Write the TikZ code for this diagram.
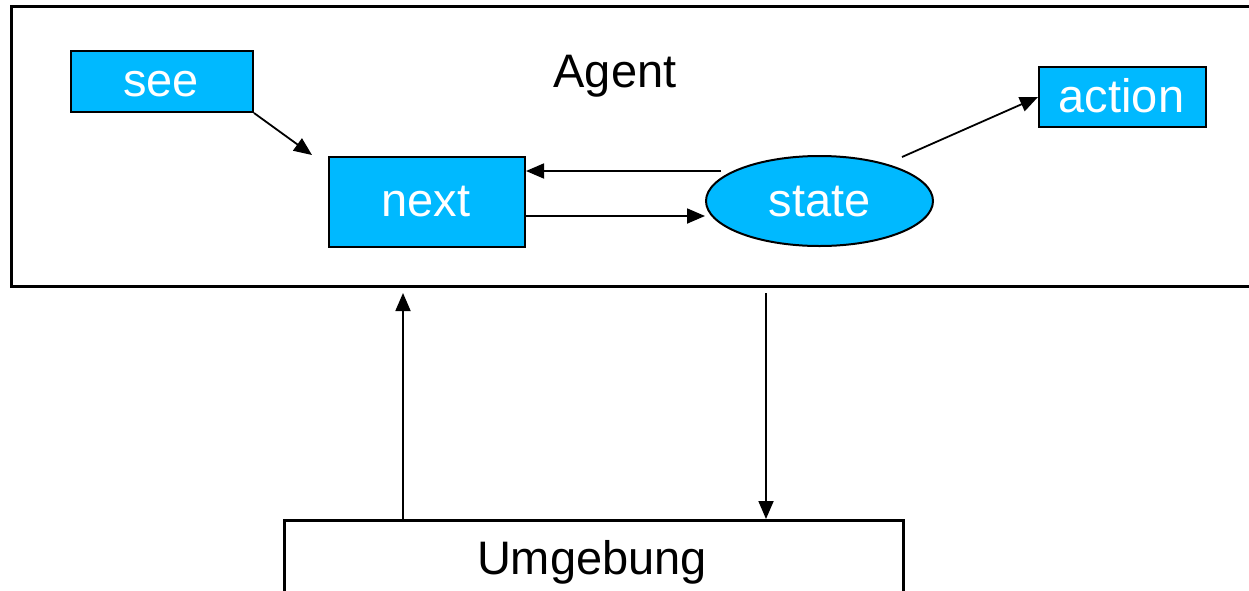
\documentclass[tikz,border=0pt]{standalone}
\usepackage{fontspec}
\setmainfont{Liberation Sans}
\usetikzlibrary{shapes.geometric,arrows.meta}
\definecolor{boxcyan}{RGB}{0,185,255}
\tikzset{
  every node/.style={font=\fontsize{47}{56}\selectfont, inner sep=0pt},
  bluebox/.style={draw=black, line width=2pt, fill=boxcyan, text=white, rectangle, anchor=north west},
  frame/.style={draw=black, line width=2.5pt},
  conn/.style={draw=black, line width=1.8pt, -{Triangle[length=18pt,width=15pt]}}
}
\begin{document}
\begin{tikzpicture}[x=1pt,y=-1pt]
\useasboundingbox (0,0) rectangle (1249,590);
\clip (0,0) rectangle (1249,590);
% Agent frame
\node[frame, rectangle, anchor=north west, minimum width=1260pt, minimum height=280pt] (agentbox) at (10,5) {};
\node[anchor=base] (agent) at (615,87) {Agent};
% Umgebung
\node[frame, rectangle, anchor=north west, minimum width=619pt, minimum height=120pt] (umg) at (283,519) {};
\node[anchor=base] (umgtext) at (592,574) {Umgebung};
% blue nodes
\node[bluebox, minimum width=182pt, minimum height=61pt] (see) at (70,50) {};
\node[text=white, anchor=base] at (161,96) {see};
\node[bluebox, minimum width=196pt, minimum height=90pt] (next) at (328,156) {};
\node[text=white, anchor=base] at (426,216) {next};
\node[draw=black, line width=2pt, fill=boxcyan, ellipse, minimum width=227pt, minimum height=90pt] (state) at (819.5,201) {};
\node[text=white, anchor=base] at (819.5,216) {state};
\node[bluebox, minimum width=167pt, minimum height=60pt] (action) at (1038,66) {};
\node[text=white, anchor=base] at (1121.5,112) {action};
% connectors
\coordinate (nextTL) at (312,155);
\draw[conn] (see.south east) -- (nextTL);
\draw[conn] ([xshift=16pt]state.west |- 0,171) -- (next.east |- 0,171);
\draw[conn] (next.east |- 0,216) -- (state.west |- 0,216);
\coordinate (stateNE) at (902,157);
\draw[conn] (stateNE) -- (action.west |- 0,97);
\coordinate (upTop) at (403,293);
\coordinate (downTop) at (766,293);
\draw[conn] (umg.north -| upTop) -- (upTop);
\draw[conn] (downTop) -- (umg.north -| downTop);
\end{tikzpicture}
\end{document}
